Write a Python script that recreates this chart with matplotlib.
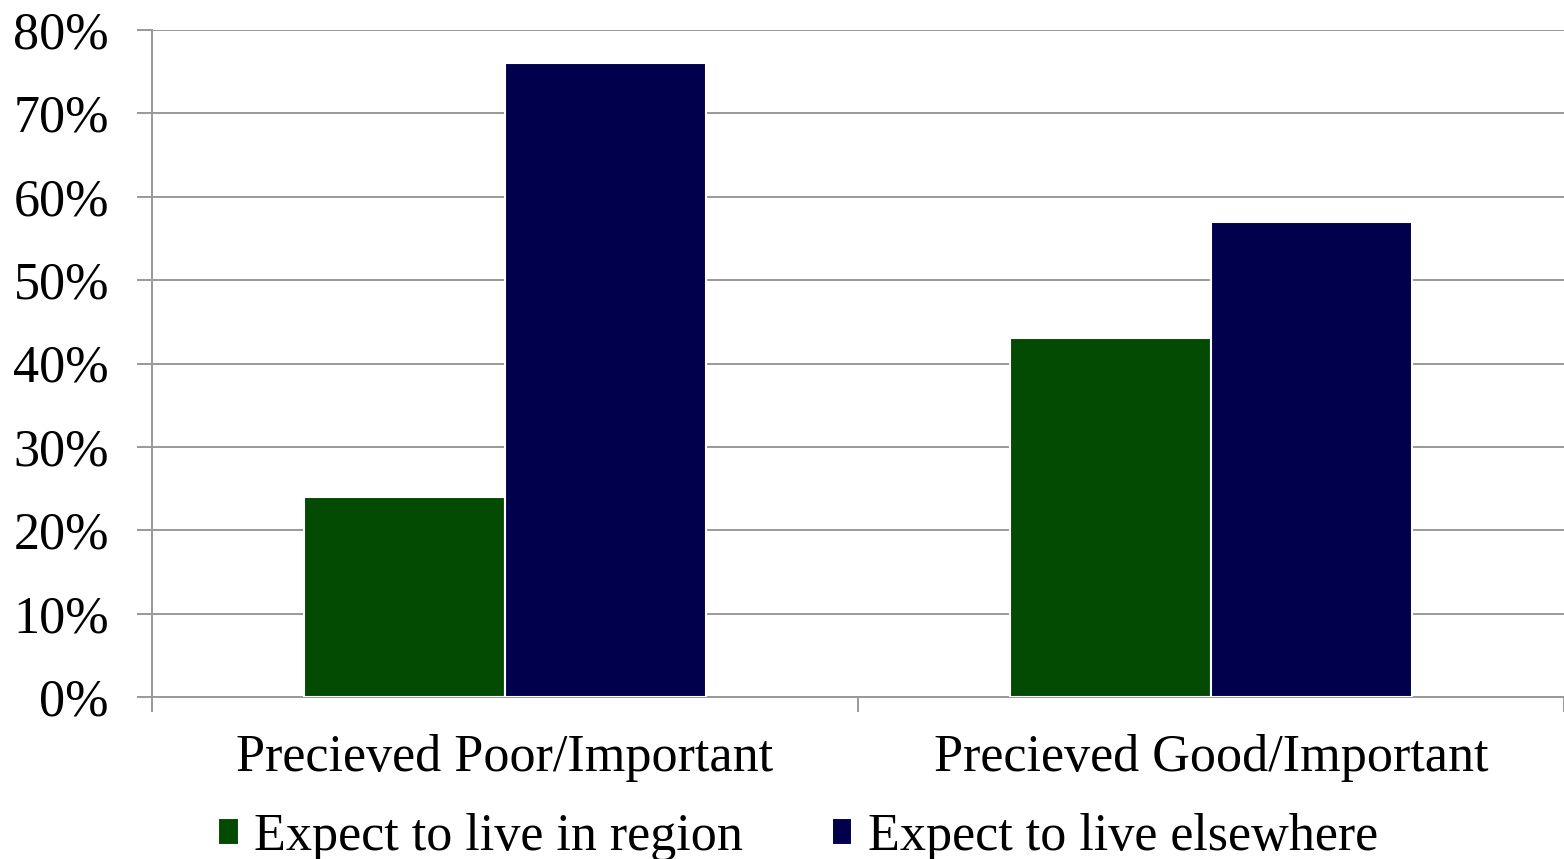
import numpy as np
import matplotlib
matplotlib.use("Agg")
import matplotlib.pyplot as plt
from matplotlib.ticker import FuncFormatter

categories = ["Precieved Poor/Important", "Precieved Good/Important"]
series_names = ["Expect to live in region", "Expect to live elsewhere"]
live_in_region = [0.24, 0.43]
live_elsewhere = [0.76, 0.57]
colors = ["#034a02", "#00004d"]

plt.rcParams["font.family"] = ["Liberation Serif", "DejaVu Serif"]

fig = plt.figure(figsize=(15.64, 8.59), dpi=100)
ax = fig.add_axes([152 / 1564, 1 - 697 / 859, 1 - 152 / 1564, (697 - 30) / 859])

x = np.arange(len(categories))
width = 0.285
fs = 37.5

ax.bar(x - width / 2, live_in_region, width, color=colors[0], edgecolor="white",
       linewidth=1.5, label=series_names[0], zorder=3)
ax.bar(x + width / 2, live_elsewhere, width, color=colors[1], edgecolor="white",
       linewidth=1.5, label=series_names[1], zorder=3)

grid_color = "#999999"
ax.set_xlim(-0.5, 1.5)
ax.set_ylim(0, 0.8)
ax.set_yticks(np.arange(0, 0.81, 0.1))
ax.yaxis.set_major_formatter(FuncFormatter(lambda v, p: f"{v * 100:.0f}%"))
ax.yaxis.grid(True, color=grid_color, linewidth=1.4, zorder=0)
ax.set_axisbelow(True)

# categories in the middle, ticks on the boundaries
ax.set_xticks([-0.5, 0.5, 1.5])
ax.set_xticklabels([])
ax.set_xticks(x, minor=True)
ax.set_xticklabels(categories, minor=True, fontsize=fs)
ax.tick_params(axis="x", which="minor", length=0, pad=27)
ax.tick_params(axis="x", which="major", length=11, width=1.4, color=grid_color)
ax.tick_params(axis="y", length=11, width=1.4, color=grid_color, labelsize=fs, pad=20)

for side in ["top", "right"]:
    ax.spines[side].set_visible(False)
for side in ["left", "bottom"]:
    ax.spines[side].set_color(grid_color)
    ax.spines[side].set_linewidth(1.4)

ax.legend(loc="center", bbox_to_anchor=(0.4575, -0.21), ncol=2, frameon=False,
          fontsize=fs, handlelength=0.4, handleheight=0.4, handletextpad=0.3,
          columnspacing=1.7, borderaxespad=0, borderpad=0)

plt.savefig("out.png", dpi=100)
plt.close()
